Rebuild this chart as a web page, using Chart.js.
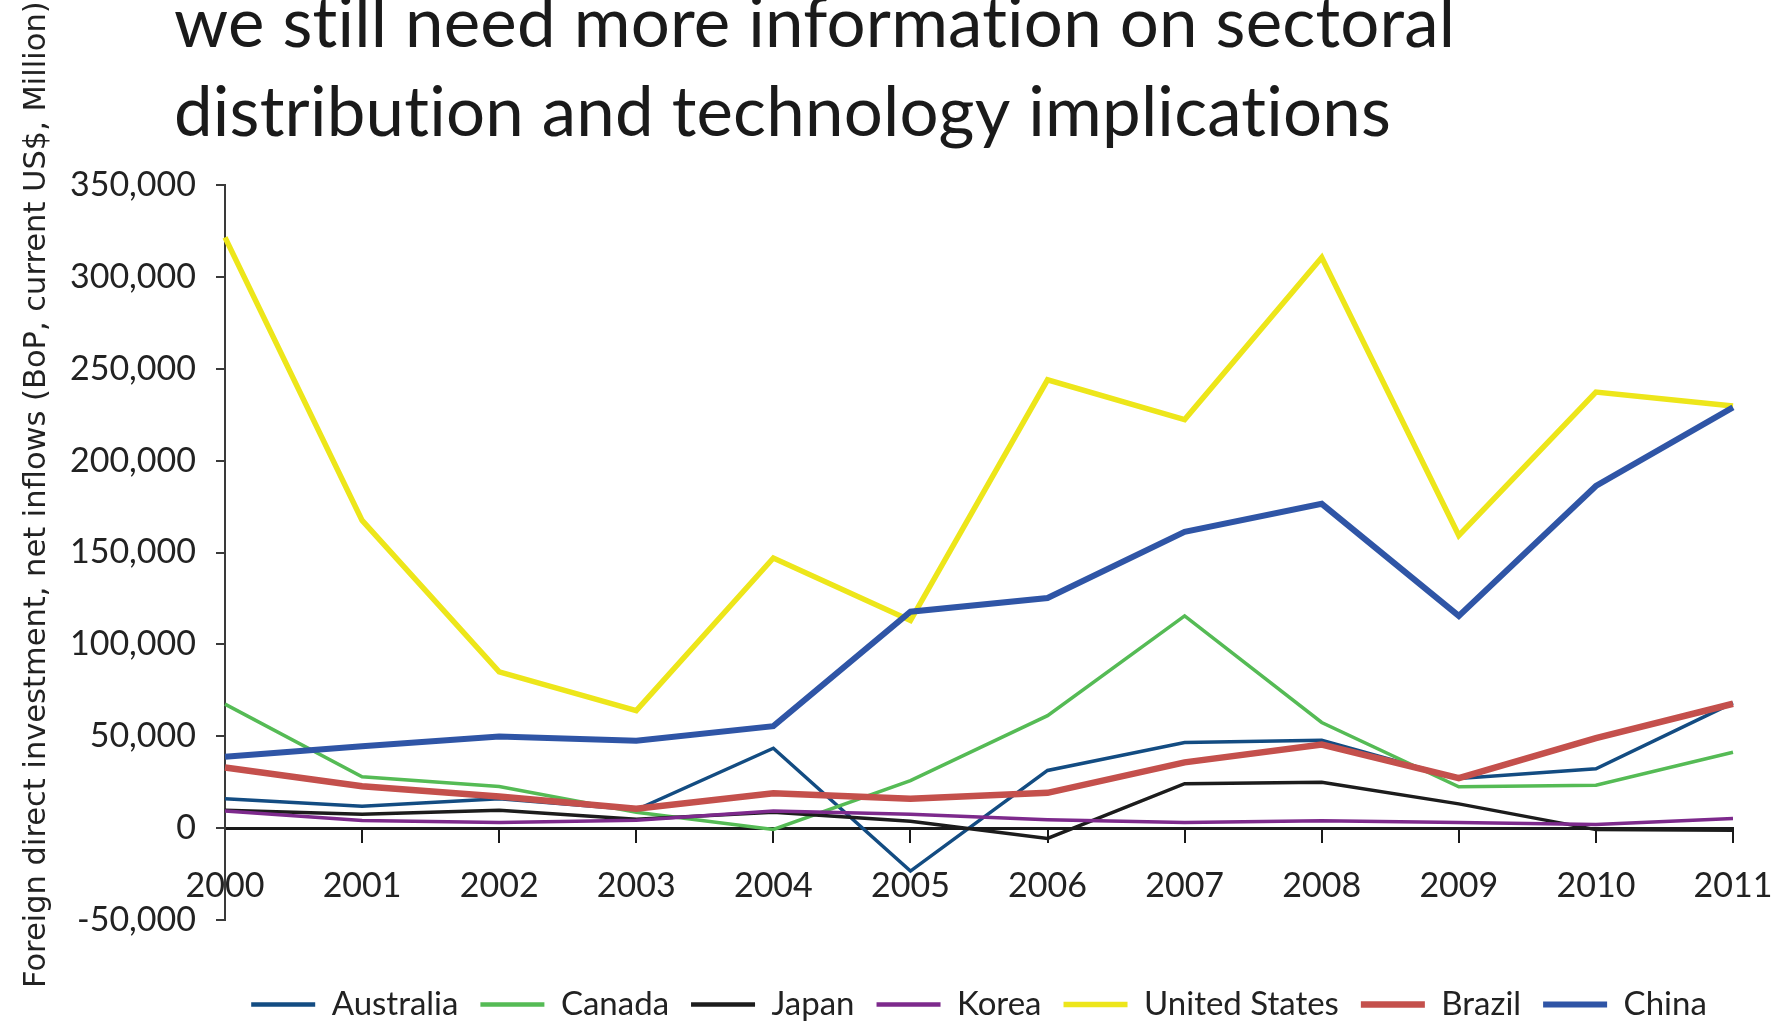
<!DOCTYPE html>
<html>
<head>
<meta charset="utf-8">
<title>FDI net inflows 2000-2011</title>
<script src="https://cdn.jsdelivr.net/npm/chart.js@4/dist/chart.umd.min.js"></script>
<style>
  html, body { margin: 0; padding: 0; background: #ffffff; }
  .wrap { width: 1785px; height: 1024px; }
</style>
</head>
<body>
<div class="wrap"><canvas id="fdiChart" width="1785" height="1024"></canvas></div>
<script>
// FDI net inflows, BoP, current US$ millions
const years = ['2000', '2001', '2002', '2003', '2004', '2005', '2006', '2007', '2008', '2009', '2010', '2011'];

const australia    = [16000, 11900, 16000, 10000, 43500, -23400, 31400, 46600, 47800, 27000, 32300, 68200];
const canada       = [67500, 28000, 22700, 8600, -700, 25900, 61200, 115500, 57500, 22500, 23400, 41300];
const japan        = [9700, 7500, 9700, 4800, 8700, 3800, -5600, 24200, 25000, 13200, -800, -1200];
const korea        = [9300, 4200, 3000, 4300, 9300, 7500, 4500, 3000, 4000, 3000, 2000, 5200];
const unitedStates = [321500, 167500, 85000, 64000, 147000, 113000, 244000, 222300, 310500, 159300, 237300, 229700];
const brazil       = [33000, 22800, 17200, 10600, 19000, 16000, 19200, 35800, 45500, 27200, 49000, 67700];
const china        = [38800, 44500, 49800, 47500, 55500, 117800, 125200, 161200, 176500, 115500, 186200, 229000];

const yTicksMin = -50000;
const yTicksMax = 350000;
const yTickStep = 50000;

const headlineLines = [
  'we still need more information on sectoral',
  'distribution and technology implications'
];
const yTitle = 'Foreign direct investment, net inflows (BoP, current US$, Million)';

const seriesList = [
  { label: 'Australia', data: australia, color: '#134c82', width: 3.5 },
  { label: 'Canada', data: canada, color: '#55bb55', width: 3.5 },
  { label: 'Japan', data: japan, color: '#1c1c1c', width: 3.5 },
  { label: 'Korea', data: korea, color: '#7d2a8c', width: 3.5 },
  { label: 'United States', data: unitedStates, color: '#ede61a', width: 5.5 },
  { label: 'Brazil', data: brazil, color: '#c4504c', width: 6.5 },
  { label: 'China', data: china, color: '#2f55a6', width: 6 }
];

// later series sit on top, like the original drawing order
const datasets = seriesList.map((s, i) => ({
  label: s.label,
  data: s.data,
  borderColor: s.color,
  backgroundColor: s.color,
  borderWidth: s.width,
  borderJoinStyle: 'miter',
  borderCapStyle: 'butt',
  pointRadius: 0,
  tension: 0,
  fill: false,
  order: seriesList.length - 1 - i
}));

// big heading and the rotated axis caption
const headline = {
  id: 'headline',
  afterDraw(chart) {
    const ctx = chart.ctx;
    ctx.save();
    ctx.fillStyle = '#1a1a1a';
    ctx.font = '69px Lato';
    ctx.letterSpacing = '0.2px'; // keeps "ti" from turning into a ligature
    ctx.textAlign = 'left';
    ctx.textBaseline = 'alphabetic';
    headlineLines.forEach((line, i) => ctx.fillText(line, 174, 47 + i * 89));

    ctx.letterSpacing = '0px';
    ctx.fillStyle = '#222222';
    ctx.font = '30.5px "DejaVu Sans"';
    ctx.translate(37, 988);
    ctx.rotate(-Math.PI / 2);
    ctx.textBaseline = 'middle';
    ctx.fillText(yTitle, 0, 0);
    ctx.restore();
  }
};

const legendLabels = (chart) =>
  Chart.defaults.plugins.legend.labels.generateLabels(chart)
    .map((item) => ({ ...item, lineWidth: Math.max(item.lineWidth, 4.5) }));

const ctx = document.getElementById('fdiChart').getContext('2d');

const fdiChart = new Chart(ctx, {
  type: 'line',
  data: {
    labels: years,
    datasets: datasets
  },
  options: {
    responsive: false,
    animation: false,
    devicePixelRatio: 1,
    events: [],
    layout: {
      padding: { top: 185, right: 52, bottom: 0, left: 0 }
    },
    scales: {
      x: {
        position: { y: 0 },
        grid: {
          drawOnChartArea: false,
          tickLength: 13,
          color: '#1a1a1a',
          lineWidth: 2
        },
        border: { color: '#1a1a1a', width: 3 },
        ticks: {
          color: '#222222',
          font: { family: 'Lato', size: 34 },
          padding: 25,
          maxRotation: 0,
          autoSkip: false
        },
        afterFit: (scale) => { scale.paddingLeft = 0; scale.paddingRight = 0; }
      },
      y: {
        min: yTicksMin,
        max: yTicksMax,
        grid: {
          drawOnChartArea: false,
          tickLength: 9,
          color: '#3a3a3a',
          lineWidth: 2
        },
        border: { color: '#3a3a3a', width: 2 },
        ticks: {
          stepSize: yTickStep,
          color: '#222222',
          font: { family: 'Lato', size: 34 },
          padding: 20,
          callback: (v) => v.toLocaleString('en-US')
        },
        afterFit: (scale) => { scale.width = 225; }
      }
    },
    plugins: {
      tooltip: { enabled: false },
      legend: {
        position: 'bottom',
        fullSize: false,
        maxHeight: 104,
        title: {
          display: true,
          text: '',
          font: { size: 10 },
          padding: { top: 34, bottom: 0 }
        },
        labels: {
          usePointStyle: true,
          pointStyle: 'line',
          pointStyleWidth: 64,
          padding: 22,
          color: '#222222',
          font: { family: 'Lato', size: 33 },
          generateLabels: legendLabels,
          sort: (a, b) => a.datasetIndex - b.datasetIndex
        }
      }
    }
  },
  plugins: [headline]
});
</script>
</body>
</html>
